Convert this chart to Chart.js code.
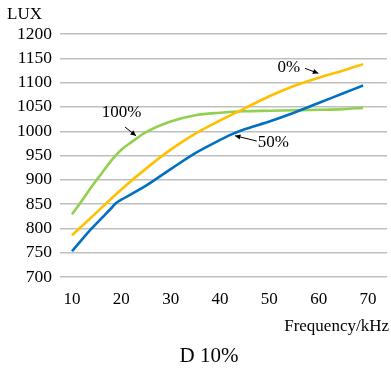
<!DOCTYPE html>
<html>
<head>
<meta charset="utf-8">
<script src="https://cdn.jsdelivr.net/npm/chart.js@4/dist/chart.umd.min.js"></script>
<style>
  html, body { margin: 0; padding: 0; background: #ffffff; }
  #wrap { width: 391px; height: 371px; position: relative; }
</style>
</head>
<body>
<div id="wrap"><canvas id="c" width="391" height="371"></canvas></div>
<script>
// ---- data ----
const xTickValues = [10, 20, 30, 40, 50, 60, 70];
const yMin = 700, yMax = 1200, yStep = 50;

const freq0 = [10, 15, 20, 25, 30, 35, 40, 45, 50, 55, 60, 65, 69];
const lux0 = [786, 833, 880, 923, 962, 995, 1022, 1047, 1072, 1093, 1110, 1125, 1138];

const freq50 = [10, 12, 14, 16, 18, 19, 20, 25, 30, 35, 40, 42, 45, 50, 55, 60, 65, 69];
const lux50 = [753, 777, 800, 821, 842, 853, 859, 888, 922, 955, 982, 992, 1004, 1020, 1038, 1058, 1078, 1094];

const freq100 = [10, 12, 14, 16, 18, 20, 22, 25, 30, 35, 40, 45, 50, 55, 60, 65, 69];
const lux100 = [829, 857, 886, 913, 940, 962, 977, 998, 1020, 1033, 1038, 1041, 1042, 1043, 1044, 1045.5, 1048];

const seriesLabels = ['0%', '50%', '100%'];
const seriesColors = ['#FFC000', '#0070C0', '#92D050'];

// annotations: label text position and arrow [from, to], in data units
const annotations = [
  { text: '100%', tx: 20.07, ty: 1037.5, ax1: 20.74, ay1: 1008.6, ax2: 22.97, ay2: 990.7 },
  { text: '0%',   tx: 53.95, ty: 1130,   ax1: 57.23, ay1: 1129.4, ax2: 59.93, ay2: 1119 },
  { text: '50%',  tx: 50.8,  ty: 975.7,  ax1: 47.44, ay1: 979.8,  ax2: 43.04, ay2: 990.7 }
];

const yAxisTitle = 'LUX';
const xAxisTitle = 'Frequency/kHz';
const chartCaption = 'D 10%';

const FONT = '"Liberation Serif", "Times New Roman", serif';

function pts(xs, ys) { return xs.map((x, i) => ({ x: x, y: ys[i] })); }

const extraText = {
  id: 'extraText',
  afterDatasetsDraw(chart) {
    const ctx = chart.ctx;
    const xs = chart.scales.x, ys = chart.scales.y;
    ctx.save();
    ctx.fillStyle = '#000';
    ctx.strokeStyle = '#000';
    ctx.font = '17px ' + FONT;
    ctx.textBaseline = 'middle';
    annotations.forEach(a => {
      ctx.textAlign = 'center';
      ctx.fillText(a.text, xs.getPixelForValue(a.tx), ys.getPixelForValue(a.ty));
      const x1 = xs.getPixelForValue(a.ax1), y1 = ys.getPixelForValue(a.ay1);
      const x2 = xs.getPixelForValue(a.ax2), y2 = ys.getPixelForValue(a.ay2);
      ctx.lineWidth = 1;
      ctx.beginPath(); ctx.moveTo(x1, y1); ctx.lineTo(x2, y2); ctx.stroke();
      const ang = Math.atan2(y2 - y1, x2 - x1);
      const L = 6, W = 0.45;
      ctx.beginPath();
      ctx.moveTo(x2, y2);
      ctx.lineTo(x2 - L * Math.cos(ang - W), y2 - L * Math.sin(ang - W));
      ctx.lineTo(x2 - L * Math.cos(ang + W), y2 - L * Math.sin(ang + W));
      ctx.closePath(); ctx.fill();
    });
    ctx.textAlign = 'left';
    ctx.fillText(yAxisTitle, 7, 15);
    ctx.textAlign = 'right';
    ctx.fillText(xAxisTitle, 389, 327);
    ctx.textAlign = 'center';
    ctx.font = '21px ' + FONT;
    ctx.fillText(chartCaption, 209, 356);
    ctx.restore();
  }
};

new Chart(document.getElementById('c'), {
  type: 'line',
  data: {
    datasets: [
      { label: seriesLabels[0], data: pts(freq0, lux0), borderColor: seriesColors[0] },
      { label: seriesLabels[1], data: pts(freq50, lux50), borderColor: seriesColors[1] },
      { label: seriesLabels[2], data: pts(freq100, lux100), borderColor: seriesColors[2] }
    ].map(d => Object.assign(d, {
      borderWidth: 2.6, pointRadius: 0, fill: false,
      tension: 0.4, cubicInterpolationMode: 'monotone'
    }))
  },
  options: {
    responsive: false,
    animation: false,
    devicePixelRatio: 1,
    layout: { padding: { top: 34, right: 4, left: 0, bottom: 0 } },
    plugins: { legend: { display: false }, tooltip: { enabled: false }, title: { display: false } },
    scales: {
      x: {
        type: 'linear',
        min: 7.57, max: 73.85,
        afterBuildTicks(scale) { scale.ticks = xTickValues.map(v => ({ value: v })); },
        afterFit(scale) { scale.height = 94; },
        grid: { display: false, drawTicks: false },
        border: { display: false },
        ticks: { color: '#000', font: { family: FONT, size: 17 }, padding: 12, maxRotation: 0, autoSkip: false,
                 callback: v => String(v) }
      },
      y: {
        min: yMin, max: yMax,
        afterFit(scale) { scale.width = 60; },
        grid: { color: '#BFBFBF', lineWidth: 1.4, drawTicks: false },
        border: { display: false },
        ticks: { stepSize: yStep, color: '#000', font: { family: FONT, size: 17.5 }, padding: 8,
                 callback: v => String(v) }
      }
    }
  },
  plugins: [extraText]
});
</script>
</body>
</html>
